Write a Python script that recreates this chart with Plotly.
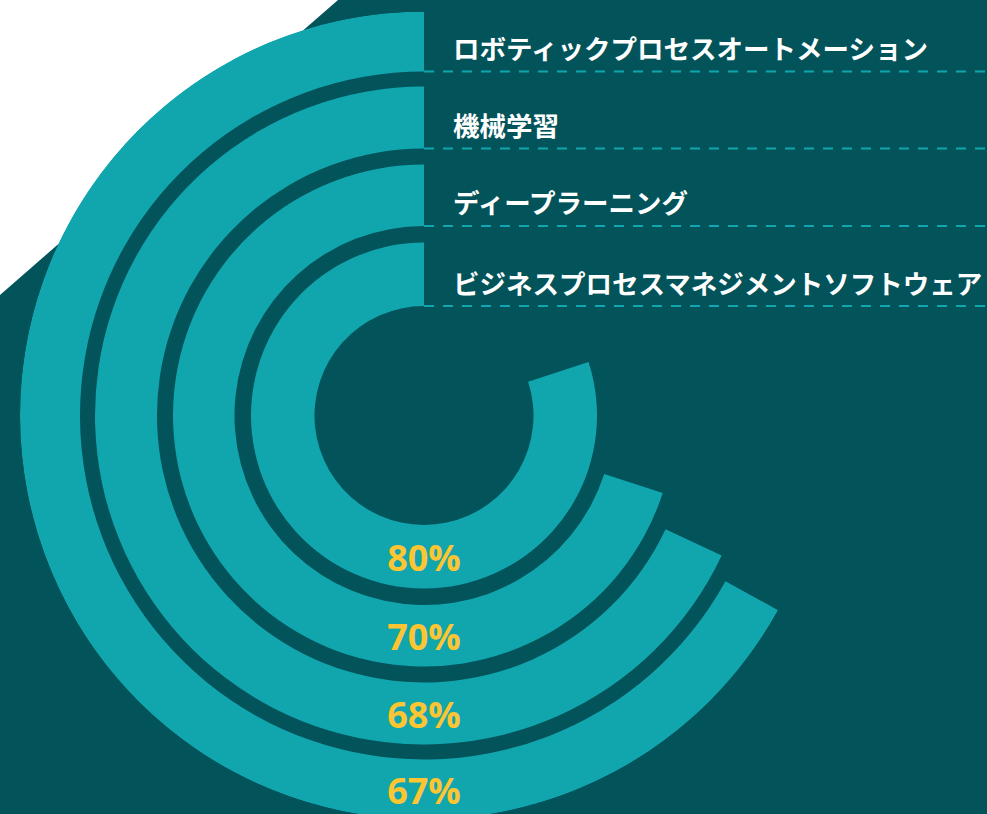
import plotly.graph_objects as go

# ---- data ----
categories = [
    "ロボティックプロセスオートメーション",
    "機械学習",
    "ディープラーニング",
    "ビジネスプロセスマネジメントソフトウェア",
]
values = [67, 68, 70, 80]
value_labels = ["67%", "68%", "70%", "80%"]

# ---- geometry / style ----
W, H = 987, 814              # visible window
FIG_H = 830                  # figure slightly taller so the outer ring is not clipped
CX, CY = 424, 415.5          # centre of the rings in page pixels
RHO = 404                    # polar radius in pixels (radial units == pixels)
ring_inner = [344, 267, 189.5, 109.5]
ring_outer = [404, 329, 251, 173]
LABEL_SHIFT = 5              # percent labels sit a little below ring middle

TEAL = "#11a6ae"
DARK = "#02535a"
YELLOW = "#fcc531"
WHITE = "#ffffff"

fig = go.Figure()

fig.add_trace(go.Barpolar(
    r=[o - i for i, o in zip(ring_inner, ring_outer)],
    base=ring_inner,
    theta=[v * 3.6 / 2 for v in values],
    width=[v * 3.6 for v in values],
    marker=dict(color=TEAL, line=dict(width=0)),
    hoverinfo="skip",
    showlegend=False,
))

fig.add_trace(go.Scatterpolar(
    r=[(i + o) / 2 + LABEL_SHIFT for i, o in zip(ring_inner, ring_outer)],
    theta=[180] * len(values),
    mode="text",
    text=value_labels,
    textposition="middle center",
    textfont=dict(family="Open Sans", size=36, color=YELLOW, weight="bold"),
    hoverinfo="skip",
    showlegend=False,
))


def py(y_px):
    """page pixel (from top) -> paper fraction"""
    return 1 - y_px / FIG_H


shapes = [
    dict(type="path", xref="paper", yref="paper", layer="below",
         path=f"M 0,1 L {338 / W},1 L 0,{py(295)} Z",
         fillcolor=WHITE, line=dict(width=0)),
]
annotations = []
for cat, ri in zip(categories, ring_inner):
    y_line = CY - ri
    shapes.append(dict(type="line", xref="paper", yref="paper", layer="above",
                       x0=424 / W, x1=1, y0=py(y_line), y1=py(y_line),
                       line=dict(color=TEAL, width=2, dash="10px,9px")))
    annotations.append(dict(text=f"<b>{cat}</b>", xref="paper", yref="paper",
                            x=451 / W, y=py(y_line - 24),
                            xanchor="left", yanchor="middle", showarrow=False,
                            font=dict(family="Noto Sans CJK JP", size=26.5, color=WHITE)))

fig.update_layout(
    template="none",
    width=W, height=FIG_H,
    margin=dict(l=0, r=0, t=0, b=0, pad=0),
    paper_bgcolor=DARK,
    plot_bgcolor=DARK,
    showlegend=False,
    shapes=shapes,
    annotations=annotations,
    polar=dict(
        domain=dict(x=[(CX - RHO) / W, (CX + RHO) / W],
                    y=[(FIG_H - CY - RHO) / FIG_H, (FIG_H - CY + RHO) / FIG_H]),
        bgcolor="rgba(0,0,0,0)",
        barmode="overlay",
        radialaxis=dict(visible=False, range=[0, RHO], showgrid=False),
        angularaxis=dict(visible=False, rotation=90, direction="counterclockwise",
                         showgrid=False),
    ),
)

fig.write_html(
    "out.html",
    config={"displayModeBar": False},
    post_script="document.documentElement.style.overflow='hidden';"
                "document.body.style.overflow='hidden';",
)
